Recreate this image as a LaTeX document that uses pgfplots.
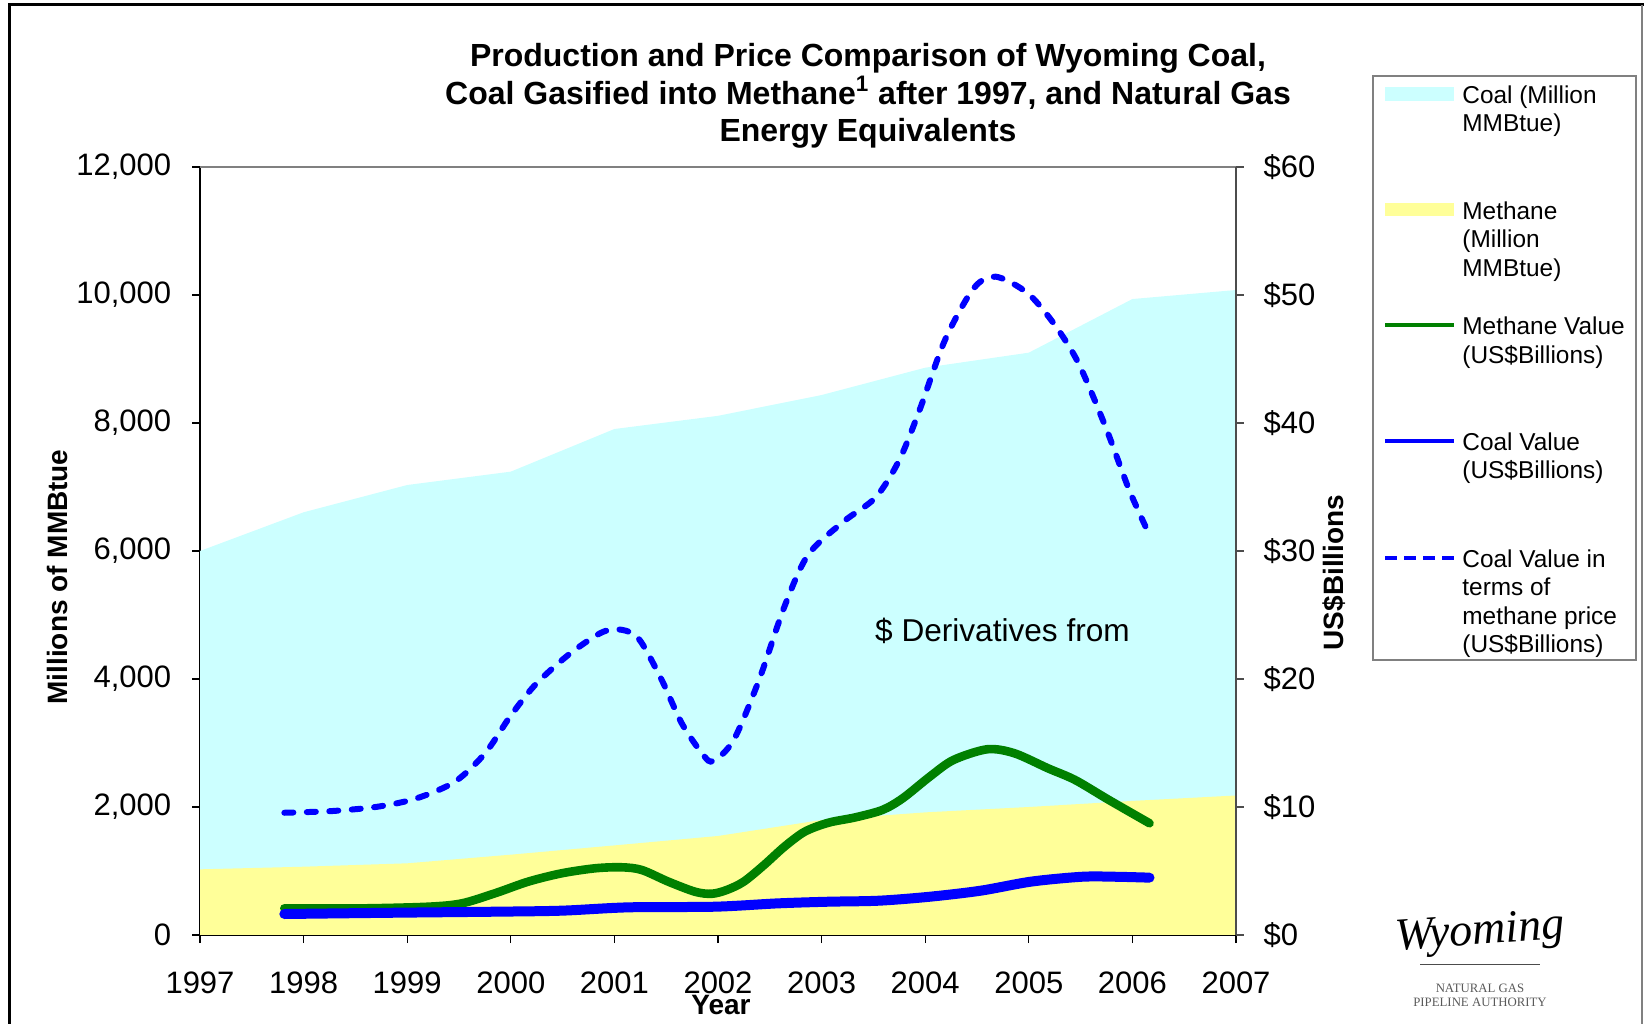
\documentclass[border=0pt]{standalone}
\usepackage{fontspec}
\setmainfont{Liberation Sans}
\newfontfamily\seriffont{Liberation Serif}
\usepackage{pgfplots}
\pgfplotsset{compat=1.18}
\definecolor{coalc}{HTML}{CCFFFF}
\definecolor{methc}{HTML}{FFFF99}
\definecolor{greenc}{HTML}{008000}
\definecolor{bluec}{HTML}{0000FF}
\definecolor{framegray}{HTML}{808080}

\pgfplotstableread{
x y
1997 6000
1998 6605
1999 7031
2000 7240
2001 7906
2002 8112
2003 8437
2004 8864
2005 9099
2006 9937
2007 10078
}\coaltab

\pgfplotstableread{
x y
1997 1026
1998 1067
1999 1120
2000 1255
2001 1400
2002 1547
2003 1797
2004 1916
2005 2000
2006 2095
2007 2180
}\methtab

\pgfplotstableread{
x y
1997.814 9.55
1998.287 9.69
1998.721 10.03
1999.092 10.68
1999.461 11.98
1999.751 14.19
1999.992 17.05
2000.234 19.53
2000.555 21.88
2000.861 23.57
2001.038 23.88
2001.231 23.18
2001.457 19.92
2001.650 16.54
2001.858 14.06
2001.955 13.60
2002.151 15.23
2002.396 19.92
2002.641 25.65
2002.869 29.69
2003.211 32.29
2003.522 34.19
2003.750 37.11
2003.946 41.02
2004.191 46.48
2004.468 50.52
2004.681 51.43
2004.990 50.13
2005.251 47.66
2005.480 44.66
2005.740 39.71
2005.969 34.77
2006.165 31.25
}\dashtab

\pgfplotstableread{
x y
1997.814 2.08
1998.561 2.08
1999.204 2.21
1999.526 2.47
1999.848 3.26
2000.169 4.17
2000.491 4.82
2000.813 5.21
2001.070 5.29
2001.264 5.08
2001.520 4.17
2001.778 3.38
2001.939 3.22
2002.086 3.52
2002.249 4.17
2002.445 5.47
2002.641 6.90
2002.837 8.07
2003.065 8.77
2003.326 9.19
2003.587 9.77
2003.783 10.68
2004.044 12.37
2004.272 13.67
2004.599 14.51
2004.860 14.20
2005.186 13.02
2005.447 12.11
2005.773 10.55
2006.165 8.73
}\greentab

\pgfplotstableread{
x y
1997.814 1.64
1998.882 1.74
1999.848 1.82
2000.491 1.90
2001.134 2.16
2001.971 2.21
2002.575 2.47
2003.065 2.60
2003.554 2.68
2004.044 2.99
2004.534 3.46
2005.023 4.17
2005.513 4.55
2005.839 4.55
2006.165 4.48
}\bluetab

\begin{document}
\begin{tikzpicture}
\path[use as bounding box] (0bp,0bp) rectangle (822bp,512bp);
% outer frame
\draw[line width=1.5bp] (4.5bp,0bp) -- (4.5bp,509.5bp) -- (822bp,509.5bp);
\draw[line width=0.7bp, framegray] (821bp,0bp) -- (821bp,509.5bp);

\begin{axis}[
  at={(100bp,44.5bp)}, anchor=south west,
  width=518bp, height=384bp, scale only axis,
  xmin=1997, xmax=2007, ymin=0, ymax=12000,
  scaled y ticks=false, scaled x ticks=false,
  axis x line*=bottom, axis y line*=left,
  axis line style={black, line width=0.8bp},
  xtick={1997,1998,1999,2000,2001,2002,2003,2004,2005,2006,2007},
  xticklabels={1997,1998,1999,2000,2001,2002,2003,2004,2005,2006,2007},
  ytick={0,2000,4000,6000,8000,10000,12000},
  yticklabels={0,{2,000},{4,000},{6,000},{8,000},{10,000},{12,000}},
  tick align=outside, major tick length=4bp,
  tick style={black, line width=0.6bp},
  ticklabel style={font=\fontsize{15.5bp}{18bp}\selectfont},
  xticklabel style={anchor=center, yshift=-20bp},
  yticklabel style={anchor=east, xshift=-6.9bp},
]
\addplot[fill=coalc, draw=none] table[x=x,y=y] {\coaltab} \closedcycle;
\addplot[fill=methc, draw=none] table[x=x,y=y] {\methtab} \closedcycle;
\end{axis}

\begin{axis}[
  at={(100bp,44.5bp)}, anchor=south west,
  width=518bp, height=384bp, scale only axis,
  xmin=1997, xmax=2007, ymin=0, ymax=60,
  scaled y ticks=false,
  axis x line*=top, axis y line*=right,
  x axis line style={framegray, line width=1.2bp},
  y axis line style={black!70, line width=0.8bp},
  xtick=\empty,
  ytick={0,10,20,30,40,50,60},
  yticklabels={\$0,\$10,\$20,\$30,\$40,\$50,\$60},
  tick align=outside, major tick length=4bp,
  tick style={black!70, line width=0.6bp},
  ticklabel style={font=\fontsize{15.5bp}{18bp}\selectfont},
  yticklabel style={anchor=west, xshift=6.3bp},
]
\addplot[bluec, line width=3bp, dash pattern=on 4.5bp off 6.75bp, line cap=round, smooth, tension=0.5] table[x=x,y=y] {\dashtab};
\addplot[greenc, line width=4.3bp, line cap=round, smooth, tension=0.5] table[x=x,y=y] {\greentab};
\addplot[bluec, line width=5bp, line cap=round, smooth, tension=0.5] table[x=x,y=y] {\bluetab};
\end{axis}

% title
\begin{scope}[every node/.style={inner sep=0pt, font=\bfseries\fontsize{16bp}{18bp}\selectfont}]
\node[anchor=base] at (434bp,478.5bp) {Production and Price Comparison of Wyoming Coal,};
\node[anchor=base] at (434bp,459.75bp) {Coal Gasified into Methane\textsuperscript{1} after 1997, and Natural Gas};
\node[anchor=base] at (434bp,441bp) {Energy Equivalents};
\end{scope}

% axis titles
\node[rotate=90, inner sep=0pt, font=\bfseries\fontsize{14bp}{16bp}\selectfont] at (28.9bp,223.5bp) {Millions of MMBtue};
\node[rotate=90, inner sep=0pt, font=\bfseries\fontsize{14bp}{16bp}\selectfont] at (667bp,225.75bp) {US\$Billions};
\node[inner sep=0pt, font=\bfseries\fontsize{14bp}{16bp}\selectfont] at (360.5bp,9.5bp) {Year};

% annotation
\node[inner sep=0pt, font=\fontsize{15.8bp}{18bp}\selectfont] at (501.25bp,196.5bp) {\$ Derivatives from};

% legend
\draw[framegray, line width=0.6bp] (686.5bp,182bp) rectangle (818bp,474bp);
\fill[coalc] (692.5bp,461.6bp) rectangle (727bp,468.4bp);
\fill[methc] (692.5bp,403.85bp) rectangle (727bp,410.65bp);
\draw[greenc, line width=2bp] (692.5bp,349.25bp) -- (727bp,349.25bp);
\draw[bluec, line width=2bp] (692.5bp,291.5bp) -- (727bp,291.5bp);
\draw[bluec, line width=2bp, dash pattern=on 6bp off 3.5bp] (692.5bp,232.75bp) -- (727bp,232.75bp);
\begin{scope}[every node/.style={anchor=base west, inner sep=0pt, font=\fontsize{12.2bp}{14.25bp}\selectfont}]
\node at (731bp,460.4bp) {Coal (Million};
\node at (731bp,446.15bp) {MMBtue)};
\node at (731bp,402.4bp) {Methane};
\node at (731bp,388.15bp) {(Million};
\node at (731bp,373.9bp) {MMBtue)};
\node at (731bp,344.65bp) {Methane Value};
\node at (731bp,330.4bp) {(US\$Billions)};
\node at (731bp,286.9bp) {Coal Value};
\node at (731bp,272.65bp) {(US\$Billions)};
\node at (731bp,228.4bp) {Coal Value in};
\node at (731bp,214.15bp) {terms of};
\node at (731bp,199.9bp) {methane price};
\node at (731bp,185.65bp) {(US\$Billions)};
\end{scope}

% logo
\node[inner sep=0pt, font=\seriffont\itshape\fontsize{23bp}{26bp}\selectfont, rotate=4] at (740bp,45bp) {Wyoming};
\draw[black!70, line width=0.5bp] (710bp,29.5bp) -- (770bp,29.5bp);
\node[inner sep=0pt, text=black!65, font=\seriffont\fontsize{6.4bp}{7bp}\selectfont] at (740bp,17.8bp) {NATURAL GAS};
\node[inner sep=0pt, text=black!65, font=\seriffont\fontsize{6.4bp}{7bp}\selectfont] at (740bp,10.8bp) {PIPELINE AUTHORITY};
\end{tikzpicture}
\end{document}
